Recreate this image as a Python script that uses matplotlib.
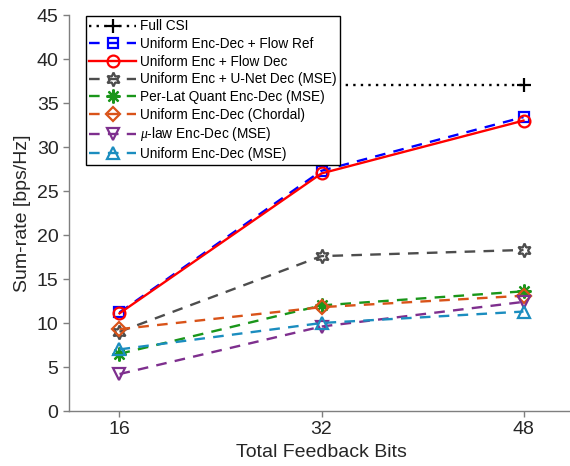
import matplotlib
matplotlib.use("Agg")
import matplotlib.pyplot as plt

plt.rcParams['font.family'] = ['Liberation Sans', 'DejaVu Sans']
plt.rcParams['mathtext.fontset'] = 'custom'
plt.rcParams['mathtext.it'] = 'Liberation Serif:italic'

bits = [16, 32, 48]
xtick_labels = ['16', '32', '48']

full_csi = [37.0, 37.0, 37.0]
flow_ref = [11.2, 27.3, 33.4]
flow_dec = [11.1, 27.0, 33.0]
unet_mse = [9.0, 17.6, 18.3]
perlat_mse = [6.5, 12.0, 13.6]
chordal = [9.3, 11.8, 13.1]
mulaw_mse = [4.2, 9.6, 12.4]
uniform_mse = [7.0, 10.0, 11.3]

labels = [
    'Full CSI',
    'Uniform Enc-Dec + Flow Ref',
    'Uniform Enc + Flow Dec',
    'Uniform Enc + U-Net Dec (MSE)',
    'Per-Lat Quant Enc-Dec (MSE)',
    'Uniform Enc-Dec (Chordal)',
    r'$\mu$-law Enc-Dec (MSE)',
    'Uniform Enc-Dec (MSE)',
]

fig = plt.figure(figsize=(5.70, 4.66), dpi=100)
ax = fig.add_axes([69 / 570, 55 / 466, 505 / 570, 396 / 466])

lw = 1.7
ms = 8.5
mew = 1.6

series = [
    (full_csi, 'black', ':', '+'),
    (flow_ref, '#0000FF', '--', 's'),
    (flow_dec, '#FF0000', '-', 'o'),
    (unet_mse, '#4D4D4D', '--', (6, 1, 0)),
    (perlat_mse, '#1A961A', '--', (8, 2, 0)),
    (chordal, '#D95319', '--', 'D'),
    (mulaw_mse, '#7E2F8E', '--', 'v'),
    (uniform_mse, '#1B8DBF', '--', '^'),
]

for (vals, color, ls, mk), lab in zip(series, labels):
    size = ms
    if mk in ('+', (8, 2, 0), (6, 1, 0)):
        size = ms + 1.5
    if mk == 'D':
        size = ms - 1
    if mk == 's':
        size = ms - 1
    ax.plot(bits, vals, color=color, linestyle=ls, linewidth=lw,
            marker=mk, markersize=size, markeredgewidth=mew,
            markerfacecolor='none', markeredgecolor=color,
            dashes=(1, 2.2) if ls == ':' else ((4.5, 3.5) if ls == '--' else (None, None)),
            label=lab)

ax.set_xlim(12, 52)
ax.set_ylim(0, 45)
ax.set_xticks(bits)
ax.set_xticklabels(xtick_labels)
ax.set_yticks(range(0, 46, 5))

for side in ('top', 'right'):
    ax.spines[side].set_visible(False)
for side in ('left', 'bottom'):
    ax.spines[side].set_color('#7F7F7F')
    ax.spines[side].set_linewidth(1.0)

ax.tick_params(axis='both', direction='out', length=4, width=1.0,
               colors='#7F7F7F', labelcolor='#262626', labelsize=14)

ax.set_xlabel('Total Feedback Bits', fontsize=14, color='#262626', labelpad=4)
ax.set_ylabel('Sum-rate [bps/Hz]', fontsize=14, color='#262626', labelpad=4)

leg = ax.legend(loc='upper left', bbox_to_anchor=(17 / 505, 395 / 396),
                borderaxespad=0, fontsize=9.8, handlelength=3.4,
                handletextpad=0.3, labelspacing=0.27, borderpad=0.25,
                fancybox=False, framealpha=1, edgecolor='black')
leg.get_frame().set_linewidth(1.0)
for t in leg.get_texts():
    t.set_color('black')

fig.savefig('out.png', dpi=100)
